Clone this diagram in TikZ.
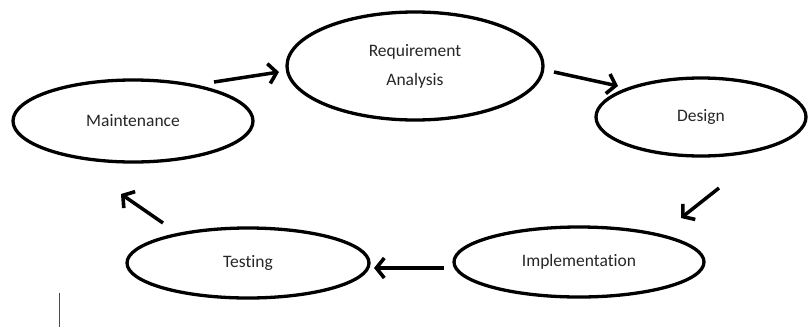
\documentclass[tikz,border=0pt]{standalone}
\usepackage{fontspec}
\setmainfont{Carlito}[Ligatures={NoCommon}]
\usetikzlibrary{shapes.geometric,arrows.meta}
\tikzset{
  phase/.style={draw=black, line width=3.3pt, ellipse, inner sep=0pt,
    font=\fontsize{17.5}{29}\selectfont, text=black!85, align=center},
  flow/.style={line width=3.5pt, draw=black,
    -{Straight Barb[length=8pt,width=20pt,line width=3.6pt]}}
}
\begin{document}
\begin{tikzpicture}[x=1pt,y=-1pt]
  \useasboundingbox (0,0) rectangle (808,327);

  % life-cycle phases
  \node[phase, minimum width=240pt, minimum height=82pt] (maint) at (133,121) {Maintenance};
  \node[phase, minimum width=256pt, minimum height=108pt] (req) at (415,66) {Requirement\\Analysis};
  \node[phase, minimum width=210pt, minimum height=78pt] (design) at (701,117) {Design};
  \node[phase, minimum width=250pt, minimum height=70pt] (impl) at (579,262) {Implementation};
  \node[phase, minimum width=242pt, minimum height=70pt] (test) at (248,263) {Testing};

  % arrow end points between the phases
  \coordinate (a1s) at (214,82);  \coordinate (a1e) at (279,72);
  \coordinate (a2s) at (554,72);  \coordinate (a2e) at (618,86);
  \coordinate (a3s) at (719,188); \coordinate (a3e) at (681,218);
  \coordinate (a4s) at (444,268); \coordinate (a4e) at (374,268);
  \coordinate (a5s) at (163,223); \coordinate (a5e) at (121,194);

  \draw[flow] (a1s) -- (a1e);
  \draw[flow] (a2s) -- (a2e);
  \draw[flow] (a3s) -- (a3e);
  \draw[flow] (a4s) -- (a4e);
  \draw[flow] (a5s) -- (a5e);

  % text cursor mark
  \coordinate (c1) at (59,293); \coordinate (c2) at (59,327);
  \draw[line width=1pt, black!70] (c1) -- (c2);
\end{tikzpicture}
\end{document}
